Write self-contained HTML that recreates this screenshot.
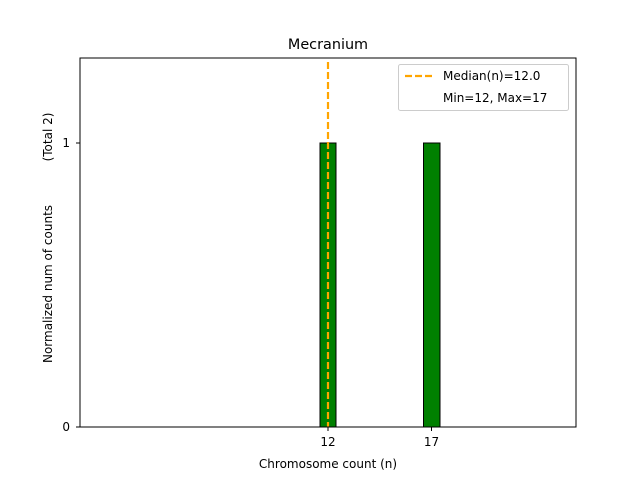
<!DOCTYPE html>
<html><head><style>body{margin:0;background:#fff}</style></head><body>
<svg width="640" height="480" xmlns="http://www.w3.org/2000/svg" font-family="DejaVu Sans, Liberation Sans, sans-serif">
<rect width="640" height="480" fill="#fff"/>
<rect x="320" y="143" width="16" height="284" fill="#008000" stroke="#000" stroke-width="1"/>
<rect x="423.5" y="143" width="16.5" height="284" fill="#008000" stroke="#000" stroke-width="1"/>
<line x1="328" y1="62" x2="328" y2="427" stroke="#ffa500" stroke-width="2.2" stroke-dasharray="7,3"/>
<rect x="80" y="58" width="496" height="369" fill="none" stroke="#000" stroke-width="1"/>
<g stroke="#000"><line x1="76" y1="143" x2="80" y2="143"/><line x1="76" y1="427" x2="80" y2="427"/>
<line x1="328" y1="427" x2="328" y2="431"/><line x1="431.5" y1="427" x2="431.5" y2="431"/></g>
<g font-size="12" fill="#000">
<text x="70" y="147" text-anchor="end">1</text>
<text x="70" y="431" text-anchor="end">0</text>
<text x="328" y="446" text-anchor="middle">12</text>
<text x="431.5" y="446" text-anchor="middle">17</text>
<text x="328" y="468" text-anchor="middle">Chromosome count (n)</text>
<text transform="translate(52,284) rotate(-90)" text-anchor="middle">Normalized num of counts</text>
<text transform="translate(52,137) rotate(-90)" text-anchor="middle">(Total 2)</text>
</g>
<text x="328" y="49" font-size="14.4" text-anchor="middle">Mecranium</text>
<rect x="398.5" y="64.5" width="170" height="46" rx="2" fill="#fff" stroke="#ccc"/>
<line x1="405" y1="76" x2="433" y2="76" stroke="#ffa500" stroke-width="2.2" stroke-dasharray="7,3"/>
<g font-size="12"><text x="443" y="80">Median(n)=12.0</text><text x="443" y="102">Min=12, Max=17</text></g>
</svg>
</body></html>
